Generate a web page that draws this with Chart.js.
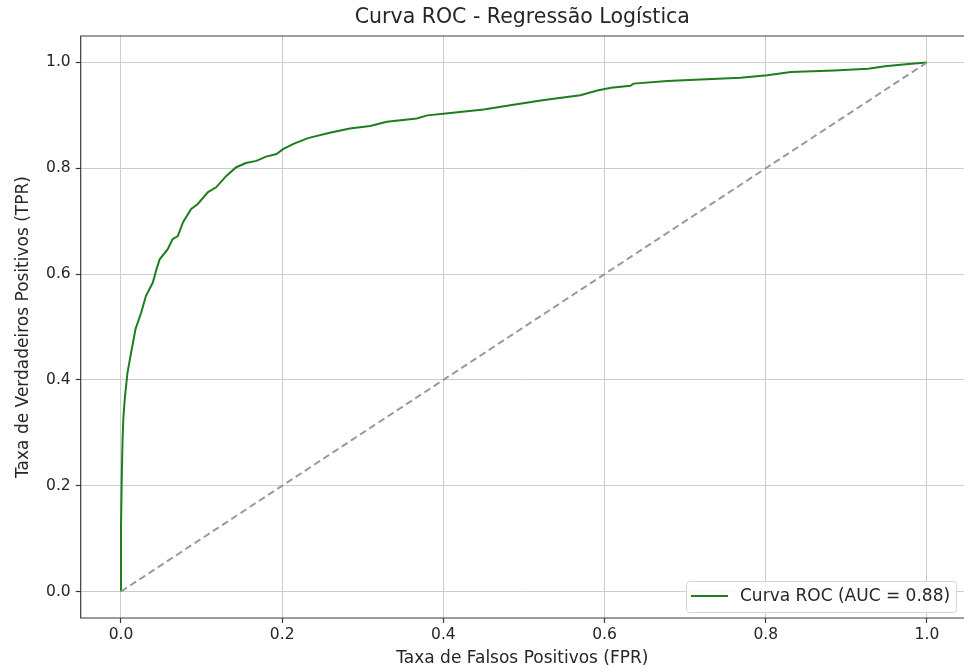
<!DOCTYPE html>
<html>
<head>
<meta charset="utf-8">
<script src="https://cdn.jsdelivr.net/npm/chart.js@4.4.1/dist/chart.umd.min.js"></script>
<style>
  html, body { margin: 0; padding: 0; background: #ffffff; overflow: hidden; }
  canvas { display: block; }
</style>
</head>
<body>
<canvas id="roc" width="964" height="671"></canvas>
<script>
// ROC curve of the logistic regression model
const fprValues = [0, 0.000, 0.001, 0.002, 0.003, 0.005, 0.008, 0.0125, 0.018, 0.025,
  0.031, 0.0395, 0.044, 0.048, 0.058, 0.064, 0.0705, 0.077, 0.087, 0.095,
  0.108, 0.118, 0.131, 0.143, 0.155, 0.168, 0.180, 0.193, 0.201, 0.214,
  0.232, 0.259, 0.284, 0.309, 0.330, 0.367, 0.380, 0.400, 0.450, 0.483,
  0.525, 0.570, 0.591, 0.608, 0.632, 0.636, 0.678, 0.719, 0.769, 0.802,
  0.831, 0.885, 0.927, 0.948, 0.977, 1.0];
const tprValues = [0, 0.12, 0.22, 0.29, 0.33, 0.37, 0.413, 0.451, 0.496, 0.527,
  0.559, 0.584, 0.609, 0.628, 0.647, 0.666, 0.672, 0.698, 0.723, 0.732,
  0.755, 0.764, 0.786, 0.802, 0.810, 0.814, 0.822, 0.827, 0.836, 0.846,
  0.857, 0.867, 0.875, 0.880, 0.888, 0.894, 0.900, 0.903, 0.911, 0.919,
  0.929, 0.938, 0.947, 0.952, 0.956, 0.960, 0.965, 0.968, 0.971, 0.976,
  0.982, 0.985, 0.988, 0.993, 0.997, 1.0];

// chance line
const diagonalFpr = [0, 1];
const diagonalTpr = [0, 1];

const tickValues = [0, 0.2, 0.4, 0.6, 0.8, 1.0];
const tickLabels = ['0.0', '0.2', '0.4', '0.6', '0.8', '1.0'];

const aucValue = 0.88;
const chartTitle = 'Curva ROC - Regressão Logística';
const xAxisTitle = 'Taxa de Falsos Positivos (FPR)';
const yAxisTitle = 'Taxa de Verdadeiros Positivos (TPR)';
const rocLabel = 'Curva ROC (AUC = ' + aucValue.toFixed(2) + ')';

const FONT = "'DejaVu Sans', 'Liberation Sans', sans-serif";
const ROC_COLOR = '#1f7d1f';
const TEXT_COLOR = '#262626';
const SPINE_COLOR = '#3a3a3a';

const toPoints = (xs, ys) => xs.map((x, i) => ({ x: x, y: ys[i] }));

// left, bottom and top spines (the right one falls at the canvas edge)
const framePlugin = {
  id: 'axesFrame',
  afterDatasetsDraw(chart) {
    const { ctx, chartArea: a } = chart;
    ctx.save();
    ctx.strokeStyle = SPINE_COLOR;
    ctx.lineWidth = 1.2;
    ctx.beginPath();
    ctx.moveTo(a.right + 2, a.top);
    ctx.lineTo(a.left, a.top);
    ctx.lineTo(a.left, a.bottom);
    ctx.lineTo(a.right + 2, a.bottom);
    ctx.stroke();
    ctx.restore();
  }
};

// legend box in the lower-right corner of the plot area
const cornerLegend = {
  id: 'cornerLegend',
  afterDraw(chart) {
    const { ctx } = chart;
    const ds = chart.data.datasets[0];
    const x0 = 686, y0 = 581, w = 270, h = 31;
    ctx.save();
    ctx.fillStyle = 'rgba(255,255,255,0.85)';
    ctx.strokeStyle = '#d4d4d4';
    ctx.lineWidth = 1;
    ctx.beginPath();
    ctx.roundRect(x0 + 0.5, y0 + 0.5, w, h, 3);
    ctx.fill();
    ctx.stroke();
    ctx.strokeStyle = ds.borderColor;
    ctx.lineWidth = 2;
    ctx.beginPath();
    ctx.moveTo(x0 + 5, y0 + 15);
    ctx.lineTo(x0 + 42, y0 + 15);
    ctx.stroke();
    ctx.fillStyle = TEXT_COLOR;
    ctx.font = '17px ' + FONT;
    ctx.textBaseline = 'middle';
    ctx.textAlign = 'left';
    ctx.fillText(ds.label, x0 + 54, y0 + 16);
    ctx.restore();
  }
};

const gridStyle = {
  color: '#cdcdcd',
  lineWidth: 1,
  drawTicks: true,
  tickLength: 5,
  tickColor: SPINE_COLOR,
  tickWidth: 1.2
};

const keepTicks = (scale) => {
  scale.ticks = tickValues.map(v => ({ value: v }));
};

new Chart(document.getElementById('roc'), {
  type: 'scatter',
  data: {
    datasets: [
      {
        label: rocLabel,
        data: toPoints(fprValues, tprValues),
        showLine: true,
        borderColor: ROC_COLOR,
        backgroundColor: ROC_COLOR,
        borderWidth: 2,
        pointRadius: 0,
        tension: 0,
        order: 2
      },
      {
        label: 'Aleatório',
        data: toPoints(diagonalFpr, diagonalTpr),
        showLine: true,
        borderColor: '#9a9a9a',
        borderWidth: 2,
        borderDash: [7, 4],
        pointRadius: 0,
        tension: 0,
        order: 1
      }
    ]
  },
  options: {
    responsive: false,
    animation: false,
    layout: { padding: 0 },
    plugins: {
      legend: { display: false },
      tooltip: { enabled: false },
      title: { display: false }
    },
    scales: {
      // top axis only carries the chart title, centred over the plot area
      xTop: {
        type: 'linear',
        position: 'top',
        min: -0.05,
        max: 1.046,
        afterFit(scale) { scale.height = 36; },
        ticks: { display: false },
        grid: { display: false, drawTicks: false },
        border: { display: false },
        title: {
          display: true,
          text: chartTitle,
          color: TEXT_COLOR,
          font: { family: FONT, size: 20.5, weight: 'normal' },
          padding: { top: 5.5, bottom: 0 }
        }
      },
      x: {
        type: 'linear',
        position: 'bottom',
        min: -0.05,
        max: 1.046,
        afterBuildTicks: keepTicks,
        afterFit(scale) { scale.height = 53; },
        border: { display: false },
        grid: gridStyle,
        ticks: {
          color: TEXT_COLOR,
          font: { family: FONT, size: 15.5 },
          padding: 3,
          maxRotation: 0,
          callback: (v) => tickLabels[tickValues.indexOf(v)]
        },
        title: {
          display: true,
          text: xAxisTitle,
          color: TEXT_COLOR,
          font: { family: FONT, size: 17 },
          padding: { top: 0, bottom: 2 }
        }
      },
      y: {
        type: 'linear',
        position: 'left',
        min: -0.05,
        max: 1.05,
        afterBuildTicks: keepTicks,
        afterFit(scale) { scale.width = 80.7; },
        border: { display: false },
        grid: gridStyle,
        ticks: {
          color: TEXT_COLOR,
          font: { family: FONT, size: 15.5 },
          padding: 5,
          callback: (v) => tickLabels[tickValues.indexOf(v)]
        },
        title: {
          display: true,
          text: yAxisTitle,
          color: TEXT_COLOR,
          font: { family: FONT, size: 17 },
          padding: { top: 13, bottom: 0 }
        }
      }
    }
  },
  plugins: [framePlugin, cornerLegend]
});
</script>
</body>
</html>
